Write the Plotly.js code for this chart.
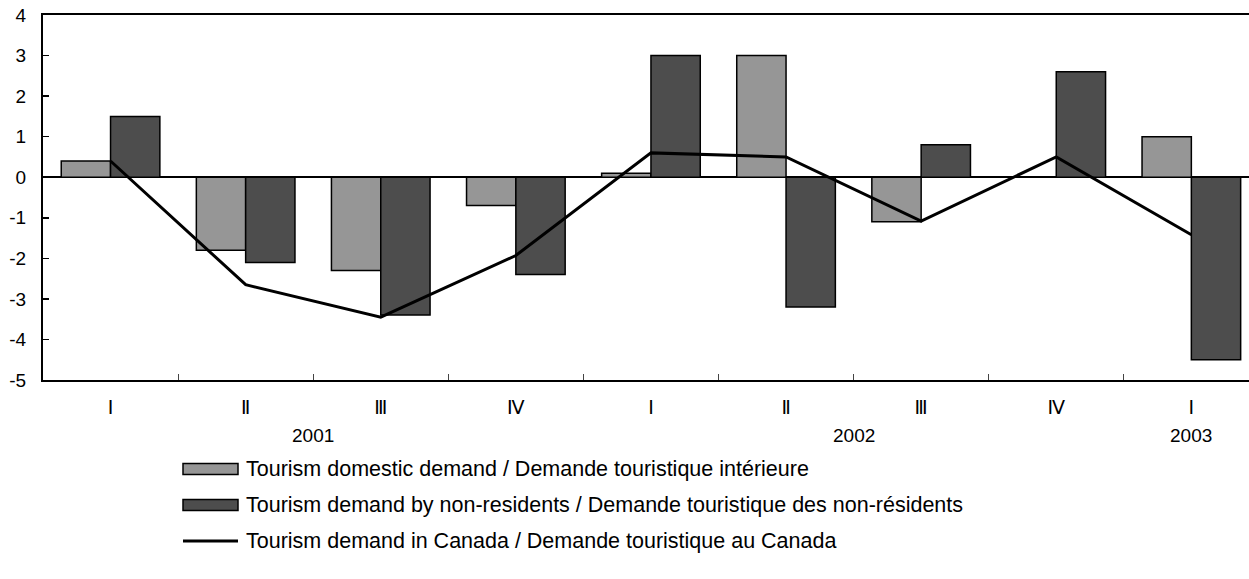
<!DOCTYPE html>
<html>
<head>
<meta charset="utf-8">
<script src="https://cdn.plot.ly/plotly-3.0.1.min.js"></script>
<style>html,body{margin:0;padding:0;background:#fff;overflow:hidden;}</style>
</head>
<body>
<div id="chart" style="width:1249px;height:579px;"></div>
<script>
// ---- data ----
var quarters = ["Ⅰ", "Ⅱ", "Ⅲ", "Ⅳ", "Ⅰ", "Ⅱ", "Ⅲ", "Ⅳ", "Ⅰ"];
var years = ["2001", "2001", "2001", "2001", "2002", "2002", "2002", "2002", "2003"];
var yearLabels = ["2001", "2002", "2003"];
var yearCenters = [1.5, 5.5, 8];
var yTickVals = [-5, -4, -3, -2, -1, 0, 1, 2, 3, 4];
var yTickText = ["-5", "-4", "-3", "-2", "-1", "0", "1", "2", "3", "4"];
var domestic = [0.4, -1.8, -2.3, -0.7, 0.1, 3.0, -1.1, 0.0, 1.0];
var nonResidents = [1.5, -2.1, -3.4, -2.4, 3.0, -3.2, 0.8, 2.6, -4.5];
var totalDemand = [0.4, -2.65, -3.45, -1.93, 0.6, 0.5, -1.08, 0.5, -1.42];
var seriesNames = [
  "Tourism domestic demand / Demande touristique intérieure",
  "Tourism demand by non-residents / Demande touristique des non-résidents",
  "Tourism demand in Canada / Demande touristique au Canada"
];

var cats = quarters.map(function (q, i) { return years[i] + " " + q; });

var FONT = "Liberation Sans, Arial, DejaVu Sans, sans-serif";
var W = 1249, H = 579, ML = 43, MR = 0, MT = 15, MB = 199;
var PW = W - ML - MR, PH = H - MT - MB;
function px(X) { return (X - ML) / PW; }
function py(Y) { return (H - MB - Y) / PH; }

var traces = [
  { type: "bar", x: cats, y: domestic, name: seriesNames[0],
    marker: { color: "#969696", line: { color: "#000", width: 1.5 } } },
  { type: "bar", x: cats, y: nonResidents, name: seriesNames[1],
    marker: { color: "#4d4d4d", line: { color: "#000", width: 1.5 } } },
  { type: "scatter", mode: "lines", x: cats, y: totalDemand, name: seriesNames[2],
    line: { color: "#000", width: 3 } }
];

var annotations = yearLabels.map(function (t, i) {
  return { text: t, x: yearCenters[i], xref: "x", y: py(435), yref: "paper",
    showarrow: false, xanchor: "center", yanchor: "middle",
    font: { family: FONT, size: 19, color: "#000" } };
});

var shapes = [];
var swatchColors = ["#969696", "#4d4d4d"];
var rowY = [469, 505, 541];
for (var i = 0; i < 2; i++) {
  shapes.push({ type: "rect", xref: "paper", yref: "paper",
    x0: px(183), x1: px(238), y0: py(rowY[i] - 5.5), y1: py(rowY[i] + 5.5),
    fillcolor: swatchColors[i], line: { color: "#000", width: 1.5 } });
}
shapes.push({ type: "line", xref: "paper", yref: "paper",
  x0: px(183), x1: px(238), y0: py(rowY[2]), y1: py(rowY[2]),
  line: { color: "#000", width: 3 } });
for (var j = 0; j < 3; j++) {
  annotations.push({ text: seriesNames[j], x: px(244), xref: "paper", y: py(rowY[j]), yref: "paper",
    showarrow: false, xanchor: "left", yanchor: "middle",
    font: { family: FONT, size: 21.5, color: "#000" } });
}

var layout = {
  width: W, height: H,
  margin: { l: ML, r: MR, t: MT, b: MB, pad: 0 },
  paper_bgcolor: "#fff", plot_bgcolor: "#fff",
  showlegend: false,
  barmode: "group", bargap: 0.27, bargroupgap: 0,
  font: { family: FONT, size: 19, color: "#000" },
  xaxis: {
    type: "category", categoryorder: "array", categoryarray: cats,
    range: [-0.5, -0.5 + PW / 135.1],
    tickmode: "array", tickvals: cats, ticktext: quarters,
    tickson: "boundaries", ticks: "inside", ticklen: 6, tickwidth: 1, tickcolor: "#444",
    showline: true, linecolor: "#000", linewidth: 2, mirror: true,
    showgrid: false, zeroline: false, ticklabelstandoff: 9,
    tickfont: { family: FONT, size: 19, color: "#000" }
  },
  yaxis: {
    range: [-5, 4], tickmode: "array", tickvals: yTickVals, ticktext: yTickText,
    ticks: "inside", ticklen: 6, tickwidth: 1.5, tickcolor: "#000",
    showline: true, linecolor: "#000", linewidth: 2,
    showgrid: false, zeroline: true, zerolinecolor: "#000", zerolinewidth: 1.5,
    ticklabelstandoff: 11,
    tickfont: { family: FONT, size: 19, color: "#000" }
  },
  annotations: annotations,
  shapes: shapes
};

Plotly.newPlot("chart", traces, layout, { displayModeBar: false, staticPlot: true });
</script>
</body>
</html>
